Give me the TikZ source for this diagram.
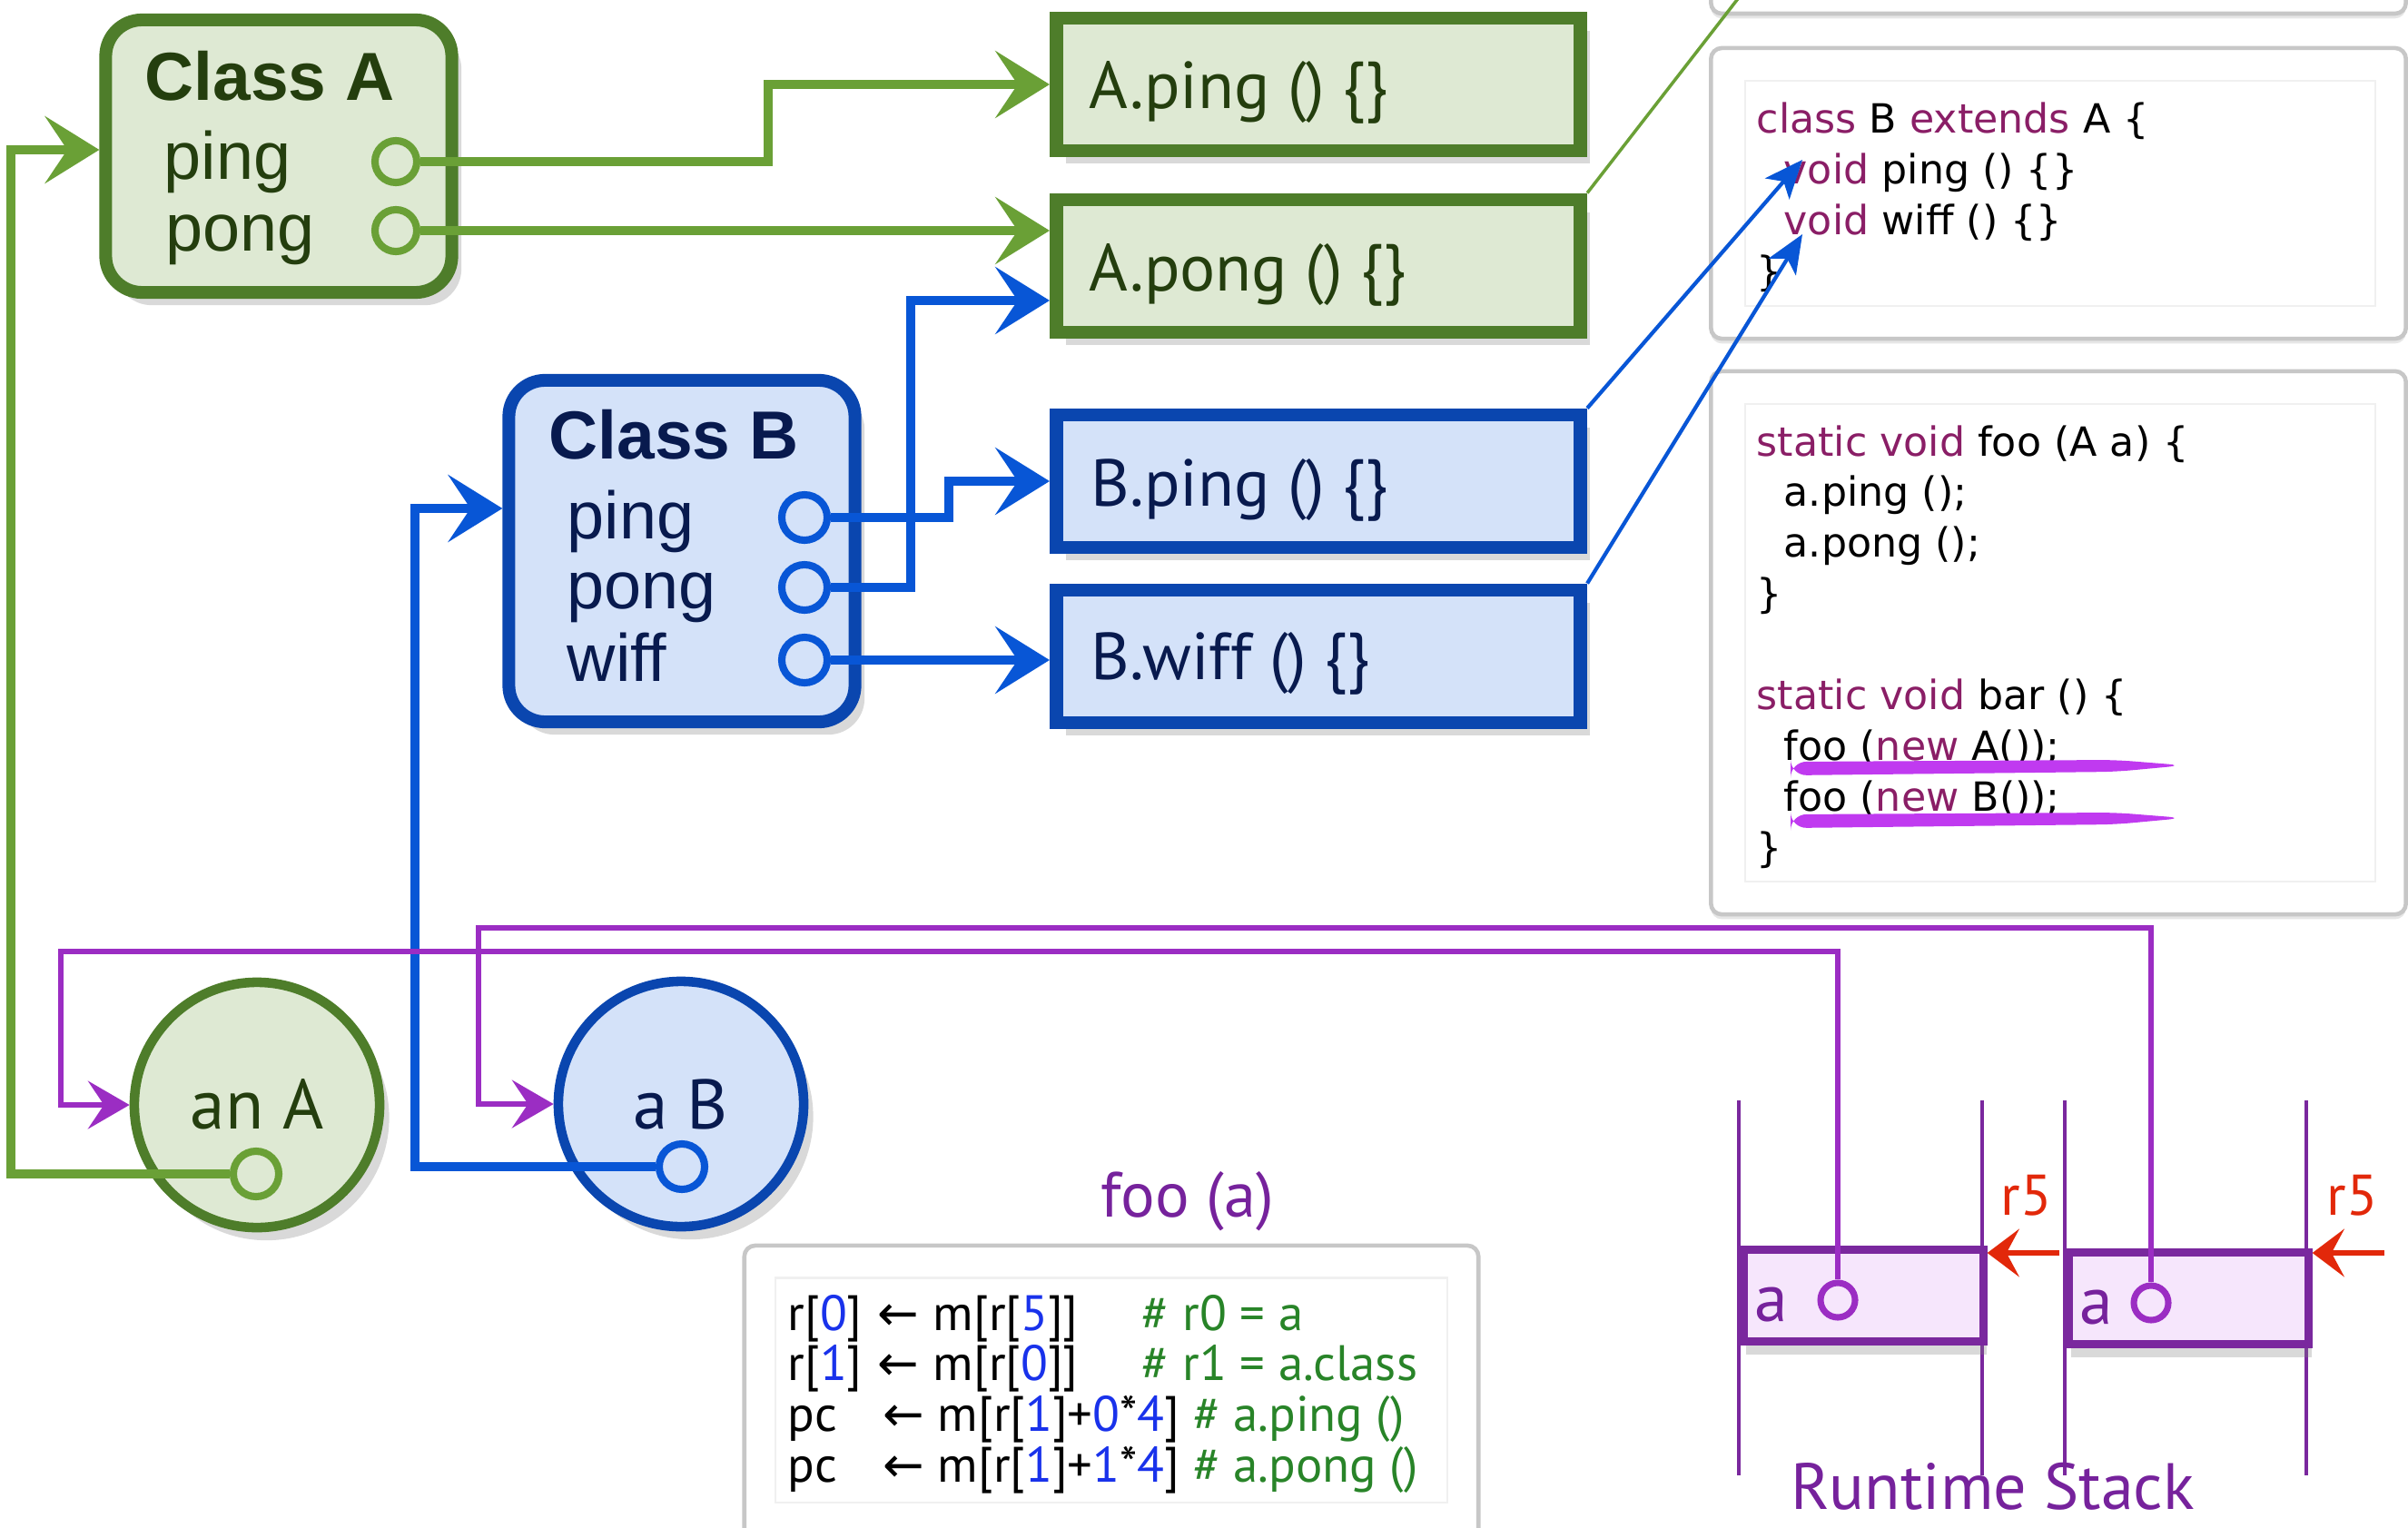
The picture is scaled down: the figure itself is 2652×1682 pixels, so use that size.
\documentclass[tikz,border=0pt]{standalone}
\usepackage{fontspec}
\setmainfont{PT Sans}
\newfontfamily\helv{Liberation Sans}
\newfontfamily\codefont{DejaVu Sans}
\usetikzlibrary{arrows.meta,shadows}

\definecolor{grnline}{RGB}{106,160,54}
\definecolor{grnborder}{RGB}{78,125,42}
\definecolor{grnfill}{RGB}{222,233,211}
\definecolor{grntext}{RGB}{36,62,14}
\definecolor{bluline}{RGB}{8,86,214}
\definecolor{bluborder}{RGB}{10,70,175}
\definecolor{blufill}{RGB}{212,226,249}
\definecolor{blutext}{RGB}{8,26,78}
\definecolor{purline}{RGB}{155,45,195}
\definecolor{purborder}{RGB}{122,40,158}
\definecolor{purfill}{RGB}{246,230,252}
\definecolor{purtext}{RGB}{118,34,156}
\definecolor{keyword}{RGB}{138,30,102}
\definecolor{comment}{RGB}{40,132,40}
\definecolor{numblue}{RGB}{25,50,235}
\definecolor{redarr}{RGB}{226,40,10}
\definecolor{hilite}{RGB}{192,58,240}

\newcommand{\kw}[1]{\textcolor{keyword}{#1}}
\newcommand{\nb}[1]{\textcolor{numblue}{#1}}
\newcommand{\cmt}[1]{\textcolor{comment}{#1}}
\newcommand{\larr}{{\codefont\fontsize{15.5}{15}\selectfont ←}}

\begin{document}
\begin{tikzpicture}[x=0.01cm, y=-0.01cm,
    classbox/.style={draw, rounded corners=0.4cm, line width=4pt, minimum width=3.81cm, minimum height=3.0cm, drop shadow={opacity=0.3, shadow xshift=3pt, shadow yshift=-4pt}},
    methbox/.style={draw, line width=4.2pt, minimum width=5.77cm, minimum height=1.46cm, drop shadow={opacity=0.3, shadow xshift=3pt, shadow yshift=-4pt}},
    portdot/.style={circle, draw, line width=2.3pt, minimum size=0.46cm, inner sep=0pt},
    objcircle/.style={circle, draw, line width=3pt, minimum size=2.7cm, inner sep=0pt, drop shadow={opacity=0.3, shadow xshift=3pt, shadow yshift=-4pt}},
    stackcell/.style={draw=purborder, fill=purfill, line width=2.6pt, minimum width=2.64cm, minimum height=1.01cm, drop shadow={opacity=0.3, shadow xshift=1pt, shadow yshift=-4pt}},
    stackport/.style={circle, draw=purline, line width=2pt, minimum size=0.38cm, inner sep=0pt},
    codebox/.style={draw=black!22, line width=1.3pt, rounded corners=0.12cm, fill=white, drop shadow={opacity=0.2, shadow xshift=0pt, shadow yshift=-1.5pt}},
    innerbox/.style={draw=black!6, line width=0.6pt},
    clstitle/.style={font=\helv\bfseries\fontsize{21.3}{24}\selectfont, anchor=base west, inner sep=0pt},
    clsitem/.style={font=\helv\fontsize{21}{24}\selectfont, anchor=base west, inner sep=0pt},
    methlabel/.style={font=\fontsize{20.8}{24}\selectfont, anchor=base west, inner sep=0pt},
    objlabel/.style={font=\fontsize{22}{24}\selectfont, anchor=base, inner sep=0pt},
    srccode/.style={font=\codefont\fontsize{12.6}{15.9}\selectfont, anchor=base west, inner sep=0pt},
    asmcode/.style={font=\fontsize{15.6}{15.85}\selectfont, anchor=base west, inner sep=0pt},
    purlabel/.style={font=\fontsize{20}{22}\selectfont, text=purtext, anchor=base west, inner sep=0pt},
    greenconn/.style={grnline, line width=2.6pt, -{Stealth[length=17pt, width=21pt, inset=7pt]}},
    blueconn/.style={bluline, line width=2.6pt, -{Stealth[length=17pt, width=21pt, inset=7pt]}},
    purconn/.style={purline, line width=1.8pt, -{Stealth[length=13pt, width=15pt, inset=5pt]}},
    thinblue/.style={bluline, line width=1.2pt, -{Stealth[length=12pt, width=10pt, inset=3pt]}},
    thingreen/.style={grnline, line width=1pt},
    redarrow/.style={redarr, line width=1.8pt, -{Stealth[length=10pt, width=15pt, inset=4pt]}},
    stackline/.style={purborder, line width=1pt}
]
\useasboundingbox (0,0) rectangle (2652,1682);

% Code panels
\node[codebox, minimum width=7.65cm, minimum height=1.0cm] (topcode) at (2267,-35) {};
\node[codebox, minimum width=7.65cm, minimum height=3.2cm] (classcode) at (2267,213) {};
\node[innerbox, minimum width=6.94cm, minimum height=2.47cm] (classinner) at (2269,213) {};
\node[codebox, minimum width=7.65cm, minimum height=5.98cm] (foocode) at (2267,708) {};
\node[innerbox, minimum width=6.94cm, minimum height=5.26cm] (fooinner) at (2269,708) {};
\node[codebox, minimum width=8.08cm, minimum height=3.6cm] (asmbox) at (1224,1552) {};
\node[innerbox, minimum width=7.4cm, minimum height=2.47cm] (asminner) at (1224,1531) {};

% Source text
\node[srccode] (classsrc) at (1934,147) {\begin{tabular}[t]{@{}l@{}}
\kw{class} B \kw{extends} A \{\\
\hspace*{0.3cm}\kw{void} ping () \{\}\\
\hspace*{0.3cm}\kw{void} wiff () \{\}\\
\}
\end{tabular}};
\node[srccode] (foosrc) at (1934,502) {\begin{tabular}[t]{@{}l@{}}
\kw{static void} foo (A a) \{\\
\hspace*{0.3cm}a.ping ();\\
\hspace*{0.3cm}a.pong ();\\
\}\\
\\
\kw{static void} bar () \{\\
\hspace*{0.3cm}foo (\kw{new} A());\\
\hspace*{0.3cm}foo (\kw{new} B());\\
\}
\end{tabular}};
\fill[hilite, rounded corners=5pt] (1972,839) -- (2330,837) -- (2405,843) -- (2330,850) -- (1972,854) -- cycle;
\fill[hilite, rounded corners=5pt] (1972,897) -- (2330,895) -- (2405,901) -- (2330,908) -- (1972,912) -- cycle;

\node[purlabel] (footitle) at (1212,1340) {foo (a)};
\node[asmcode] (asmsrc) at (867,1465) {\begin{tabular}[t]{@{}l@{}}
\makebox[0.99cm][l]{r[\nb{0}]}\makebox[0.61cm][l]{\larr}\makebox[2.3cm][l]{m[r[\nb{5}]]}\cmt{\# r0 = a}\\
\makebox[0.99cm][l]{r[\nb{1}]}\makebox[0.61cm][l]{\larr}\makebox[2.3cm][l]{m[r[\nb{0}]]}\cmt{\# r1 = a.class}\\
\makebox[1.05cm][l]{pc}\makebox[0.6cm][l]{\larr}m[r[\nb{1}]+\nb{0}*\nb{4}] \cmt{\# a.ping ()}\\
\makebox[1.05cm][l]{pc}\makebox[0.6cm][l]{\larr}m[r[\nb{1}]+\nb{1}*\nb{4}] \cmt{\# a.pong ()}
\end{tabular}};

% Classes
\node[classbox, draw=grnborder, fill=grnfill] (classA) at (307,172) {};
\node[clstitle, text=grntext] (classAtitle) at (159,111) {Class A};
\node[clsitem, text=grntext] (classAping) at (180,197) {ping};
\node[clsitem, text=grntext] (classApong) at (182,276) {pong};
\node[portdot, draw=grnline] (portApin) at (436,178) {};
\node[portdot, draw=grnline] (portApong) at (436,254) {};

\node[classbox, draw=bluborder, fill=blufill, minimum height=3.76cm] (classB) at (751,607) {};
\node[clstitle, text=blutext] (classBtitle) at (604,505) {Class B};
\node[clsitem, text=blutext] (classBping) at (624,593) {ping};
\node[clsitem, text=blutext] (classBpong) at (624,670) {pong};
\node[clsitem, text=blutext] (classBwiff) at (624,750) {wiff};
\node[portdot, draw=bluline, minimum size=0.5cm] (portBpin) at (886,570) {};
\node[portdot, draw=bluline, minimum size=0.5cm] (portBpong) at (886,647) {};
\node[portdot, draw=bluline, minimum size=0.5cm] (portBwiff) at (886,727) {};

% Methods
\node[methbox, draw=grnborder, fill=grnfill] (Aping) at (1452,93) {};
\node[methlabel, text=grntext] (Apingtxt) at (1199,120) {A.ping () \{\}};
\node[methbox, draw=grnborder, fill=grnfill] (Apong) at (1452,293) {};
\node[methlabel, text=grntext] (Apongtxt) at (1199,320) {A.pong () \{\}};
\node[methbox, draw=bluborder, fill=blufill] (Bping) at (1452,530) {};
\node[methlabel, text=blutext] (Bpingtxt) at (1201,557) {B.ping () \{\}};
\node[methbox, draw=bluborder, fill=blufill] (Bwiff) at (1452,723) {};
\node[methlabel, text=blutext] (Bwifftxt) at (1201,748) {B.wiff () \{\}};

% Objects
\node[objcircle, draw=grnborder, fill=grnfill] (anA) at (283,1217) {};
\node[objlabel, text=grntext] (anAtxt) at (283,1243) {an A};
\node[portdot, draw=grnline, minimum size=0.5cm] (portaA) at (282,1293) {};
\node[objcircle, draw=bluborder, fill=blufill] (aB) at (750,1216) {};
\node[objlabel, text=blutext] (aBtxt) at (750,1243) {a B};
\node[portdot, draw=bluline, minimum size=0.5cm] (portaB) at (751,1285) {};

% Runtime stack
\foreach \x in {1915,2183,2274,2540}
    \draw[stackline] (\x,1212) -- (\x,1625);
\node[stackcell] (cellA) at (2052,1427) {};
\node[stackcell] (cellB) at (2410,1430) {};
\node[purlabel, font=\fontsize{21}{24}\selectfont] (cellAtxt) at (1932,1455) {a};
\node[purlabel, font=\fontsize{21}{24}\selectfont] (cellBtxt) at (2290,1458) {a};
\node[stackport] (portSA) at (2024,1432) {};
\node[stackport] (portSB) at (2369,1435) {};
\node[purlabel, text=redarr, font=\fontsize{18}{20}\selectfont] (r5A) at (2203,1338) {r5};
\node[purlabel, text=redarr, font=\fontsize{18}{20}\selectfont] (r5B) at (2562,1338) {r5};
\coordinate (r5tailA) at (2268,1380);
\coordinate (r5tailB) at (2626,1380);
\draw[redarrow] (r5tailA) -- (r5tailA -| cellA.east);
\draw[redarrow] (r5tailB) -- (r5tailB -| cellB.east);
\node[purlabel, font=\fontsize{20.5}{22}\selectfont] (rtstack) at (1972,1662) {Runtime Stack};

% Vtable pointers
\draw[greenconn] (portApin.east) -- (846,178) |- (Aping.west);
\draw[greenconn] (portApong.east) -- (portApong -| Apong.west);
\draw[blueconn] (portBpin.east) -- (1045,570) |- (Bping.west);
\draw[blueconn] (portBpong.east) -| (1003,331) -- (Apong.west |- 1003,331);
\draw[blueconn] (portBwiff.east) -- (portBwiff -| Bwiff.west);

% Object class pointers
\draw[greenconn] (portaA.west) -| (12,165) -- (classA.west |- 12,165);
\draw[blueconn] (portaB.west) -| (457,560) -- (classB.west |- 457,560);

% Stack references
\draw[purconn] (portSA.north) |- (67,1048) |- (anA.west);
\draw[purconn] (portSB.north) |- (527,1022) |- (aB.west);

% Source links
\coordinate (vping) at (1985,176);
\coordinate (vwiff) at (1985,258);
\coordinate (offtop) at (1916,-4);
\draw[thinblue] (Bping.north east) -- (vping);
\draw[thinblue] (Bwiff.north east) -- (vwiff);
\draw[thingreen] (Apong.north east) -- (offtop);
\end{tikzpicture}
\end{document}
